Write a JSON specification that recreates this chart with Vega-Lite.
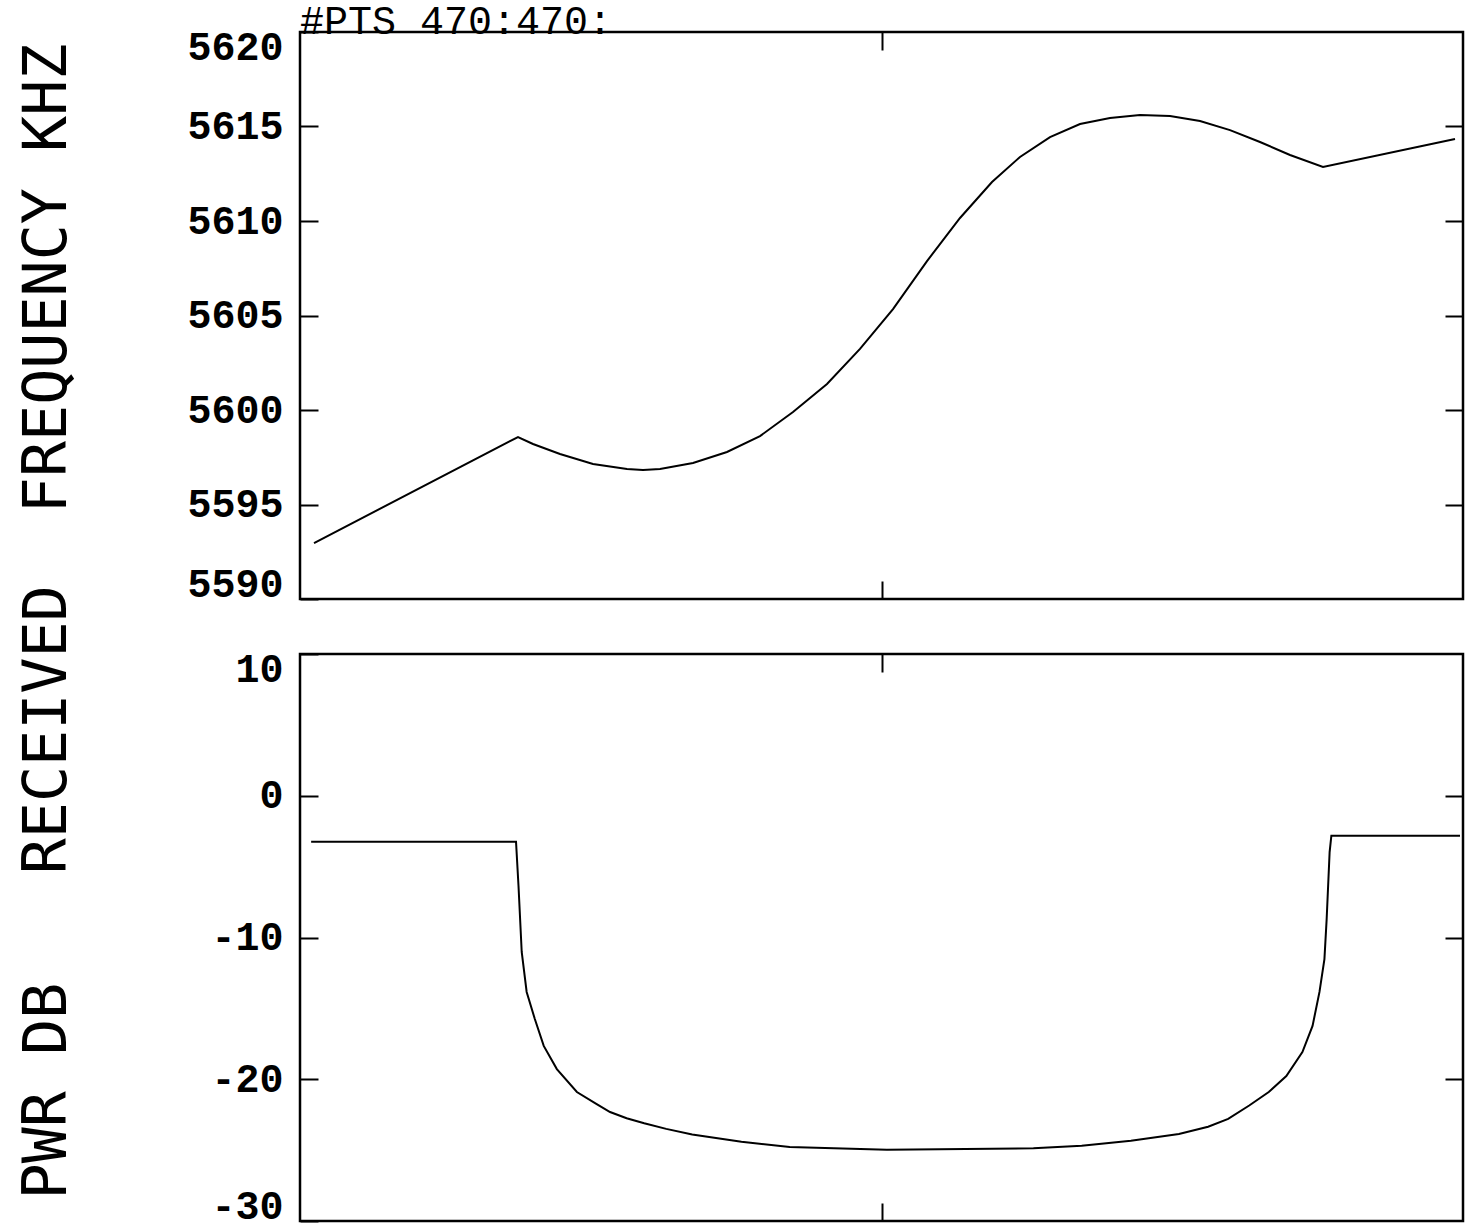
{
  "$schema": "https://vega.github.io/schema/vega-lite/v6.json",
  "background": "white",
  "padding": {"left": 15, "top": 0, "right": 5, "bottom": 5},
  "bounds": "flush",
  "spacing": 55,
  "datasets": {
    "freq": [
      {"i": 5.66, "khz": 5592.96},
      {"i": 88.1, "khz": 5598.57},
      {"i": 94.16, "khz": 5598.2},
      {"i": 105.07, "khz": 5597.67},
      {"i": 118.41, "khz": 5597.14},
      {"i": 132.15, "khz": 5596.88},
      {"i": 138.62, "khz": 5596.83},
      {"i": 145.49, "khz": 5596.88},
      {"i": 158.82, "khz": 5597.2},
      {"i": 172.56, "khz": 5597.78},
      {"i": 185.9, "khz": 5598.62},
      {"i": 199.24, "khz": 5599.89},
      {"i": 212.98, "khz": 5601.38},
      {"i": 226.31, "khz": 5603.23},
      {"i": 239.65, "khz": 5605.34},
      {"i": 253.39, "khz": 5607.88},
      {"i": 266.73, "khz": 5610.16},
      {"i": 279.66, "khz": 5612.06},
      {"i": 290.97, "khz": 5613.39},
      {"i": 303.1, "khz": 5614.44},
      {"i": 315.22, "khz": 5615.13},
      {"i": 327.34, "khz": 5615.45},
      {"i": 339.47, "khz": 5615.61},
      {"i": 351.59, "khz": 5615.56},
      {"i": 363.72, "khz": 5615.29},
      {"i": 375.84, "khz": 5614.81},
      {"i": 387.96, "khz": 5614.18},
      {"i": 400.09, "khz": 5613.49},
      {"i": 413.42, "khz": 5612.86},
      {"i": 466.77, "khz": 5614.34}
    ],
    "pwr": [
      {"i": 4.5, "db": -3.24},
      {"i": 87.3, "db": -3.24},
      {"i": 88.3, "db": -6.35},
      {"i": 89.6, "db": -11.02},
      {"i": 91.6, "db": -13.84},
      {"i": 94.9, "db": -15.75},
      {"i": 98.5, "db": -17.65},
      {"i": 103.8, "db": -19.28},
      {"i": 111.9, "db": -20.9},
      {"i": 119.4, "db": -21.7},
      {"i": 125.3, "db": -22.31},
      {"i": 132.0, "db": -22.75},
      {"i": 139.1, "db": -23.1},
      {"i": 148.0, "db": -23.5},
      {"i": 158.5, "db": -23.9},
      {"i": 178.4, "db": -24.41},
      {"i": 197.9, "db": -24.78},
      {"i": 237.2, "db": -24.97},
      {"i": 296.4, "db": -24.87},
      {"i": 315.9, "db": -24.69},
      {"i": 335.8, "db": -24.34},
      {"i": 355.2, "db": -23.86},
      {"i": 367.0, "db": -23.35},
      {"i": 375.1, "db": -22.8},
      {"i": 383.6, "db": -21.85},
      {"i": 391.5, "db": -20.9},
      {"i": 398.6, "db": -19.77},
      {"i": 405.1, "db": -18.08},
      {"i": 409.2, "db": -16.24},
      {"i": 412.0, "db": -13.84},
      {"i": 414.0, "db": -11.52},
      {"i": 414.9, "db": -8.7},
      {"i": 416.1, "db": -3.97},
      {"i": 416.8, "db": -2.82},
      {"i": 468.8, "db": -2.82}
    ]
  },
  "vconcat": [
    {
      "width": 1163,
      "height": 567,
      "title": {"text": "#PTS 470:470:", "anchor": "start", "frame": "group", "font": "Liberation Mono", "fontSize": 40, "fontWeight": "normal", "color": "black", "offset": -47, "baseline": "alphabetic"},
      "data": {"name": "freq"},
      "layer": [
        {
          "mark": {"type": "line", "color": "black", "strokeWidth": 2},
          "encoding": {
            "x": {"field": "i", "type": "quantitative", "scale": {"domain": [0, 470], "nice": false, "zero": false},
              "axis": {"orient": "bottom", "values": [235], "labels": false, "title": null}},
            "y": {"field": "khz", "type": "quantitative", "scale": {"domain": [5590, 5620], "nice": false, "zero": false},
              "axis": {"orient": "left", "values": [5590, 5595, 5600, 5605, 5610, 5615, 5620], "format": "d", "labelFlush": true, "labelFlushOffset": 5, "labelPadding": 35,
                "title": "PWR DB\u00a0\u00a0\u00a0RECEIVED\u00a0\u00a0FREQUENCY KHZ",
                "titleFont": "DejaVu Sans Mono", "titleFontSize": 60, "titleFontWeight": "normal", "titleColor": "black",
                "titleAngle": 270, "titleX": -253, "titleY": 589, "titleAlign": "center", "titleBaseline": "middle"}}
          }
        },
        {
          "mark": {"type": "line", "strokeOpacity": 0},
          "encoding": {
            "x": {"field": "i", "type": "quantitative", "scale": {"domain": [0, 470], "nice": false, "zero": false},
              "axis": {"orient": "top", "values": [235], "labels": false, "title": null}},
            "y": {"field": "khz", "type": "quantitative", "scale": {"domain": [5590, 5620], "nice": false, "zero": false},
              "axis": {"orient": "right", "values": [5595, 5600, 5605, 5610, 5615], "labels": false, "title": null}}
          }
        }
      ],
      "resolve": {"axis": {"x": "independent", "y": "independent"}}
    },
    {
      "width": 1163,
      "height": 567,
      "data": {"name": "pwr"},
      "layer": [
        {
          "mark": {"type": "line", "color": "black", "strokeWidth": 2},
          "encoding": {
            "x": {"field": "i", "type": "quantitative", "scale": {"domain": [0, 470], "nice": false, "zero": false},
              "axis": {"orient": "bottom", "values": [235], "labels": false, "title": null}},
            "y": {"field": "db", "type": "quantitative", "scale": {"domain": [-30, 10], "nice": false, "zero": false},
              "axis": {"orient": "left", "values": [-30, -20, -10, 0, 10], "labelFlush": true, "labelFlushOffset": 5, "labelPadding": 35, "labelExpr": "'' + datum.value", "title": null}}
          }
        },
        {
          "mark": {"type": "line", "strokeOpacity": 0},
          "encoding": {
            "x": {"field": "i", "type": "quantitative", "scale": {"domain": [0, 470], "nice": false, "zero": false},
              "axis": {"orient": "top", "values": [235], "labels": false, "title": null}},
            "y": {"field": "db", "type": "quantitative", "scale": {"domain": [-30, 10], "nice": false, "zero": false},
              "axis": {"orient": "right", "values": [-20, -10, 0], "labels": false, "title": null}}
          }
        }
      ],
      "resolve": {"axis": {"x": "independent", "y": "independent"}}
    }
  ],
  "config": {
    "view": {"stroke": "black", "strokeWidth": 2.5},
    "axis": {
      "domain": false, "grid": false, "minExtent": 0,
      "ticks": true, "tickColor": "black", "tickWidth": 2, "tickSize": -18,
      "labelColor": "black", "labelFont": "Liberation Mono", "labelFontWeight": "bold", "labelFontSize": 40
    }
  }
}
